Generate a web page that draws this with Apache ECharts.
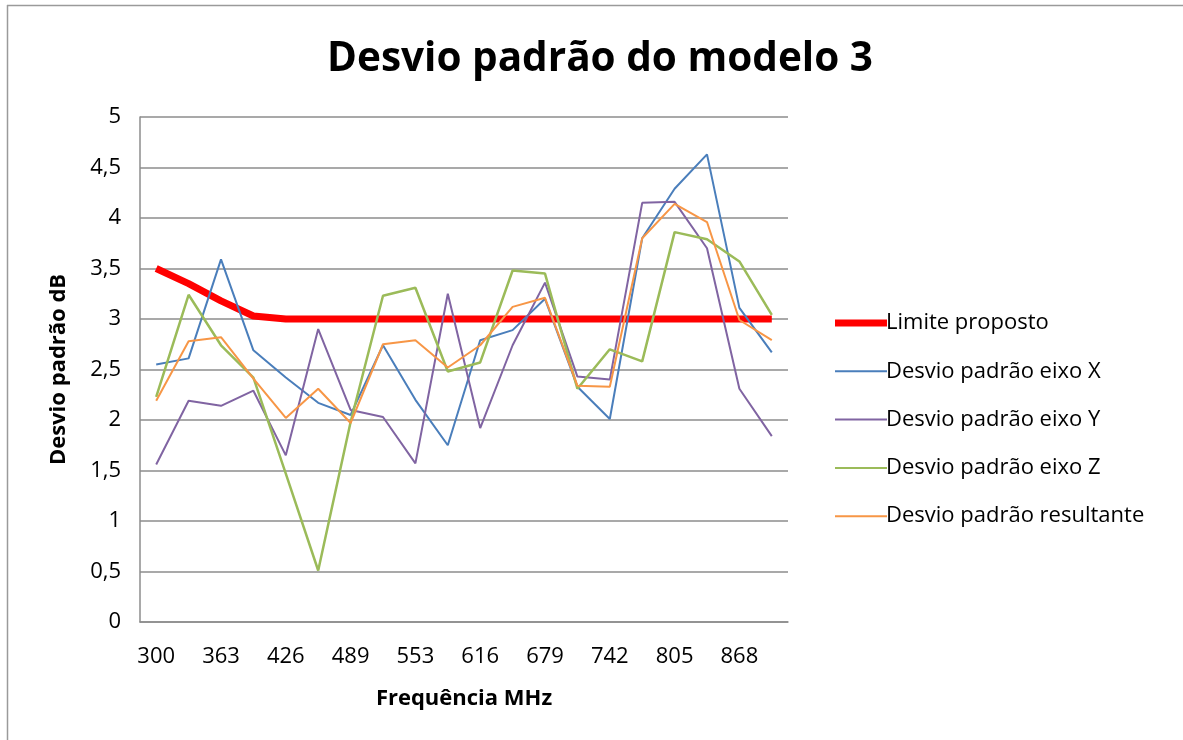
<!DOCTYPE html>
<html>
<head>
<meta charset="utf-8">
<script src="https://cdn.jsdelivr.net/npm/echarts@6/dist/echarts.min.js"></script>
<style>
  html, body { margin: 0; padding: 0; background: #fff; }
  #chart { width: 1183px; height: 740px; }
</style>
</head>
<body>
<div id="chart"></div>
<script>
// Frequencies (MHz), 20 points from 300 to 900
const frequencias = ['300', '332', '363', '395', '426', '458', '489', '521', '553', '584',
                     '616', '647', '679', '710', '742', '774', '805', '837', '868', '900'];

const limiteProposto = [3.5, 3.35, 3.18, 3.03, 3.0, 3.0, 3.0, 3.0, 3.0, 3.0,
                        3.0, 3.0, 3.0, 3.0, 3.0, 3.0, 3.0, 3.0, 3.0, 3.0];
const desvioX = [2.55, 2.61, 3.59, 2.69, 2.42, 2.17, 2.05, 2.74, 2.2, 1.75,
                 2.79, 2.89, 3.2, 2.33, 2.01, 3.8, 4.29, 4.63, 3.11, 2.67];
const desvioY = [1.56, 2.19, 2.14, 2.29, 1.65, 2.9, 2.1, 2.03, 1.57, 3.25,
                 1.92, 2.74, 3.36, 2.43, 2.4, 4.15, 4.16, 3.7, 2.31, 1.84];
const desvioZ = [2.23, 3.24, 2.74, 2.42, 1.47, 0.51, 1.98, 3.23, 3.31, 2.48,
                 2.57, 3.48, 3.45, 2.31, 2.7, 2.58, 3.86, 3.79, 3.57, 3.04];
const desvioResultante = [2.19, 2.78, 2.82, 2.41, 2.02, 2.31, 1.97, 2.75, 2.79, 2.52,
                          2.74, 3.12, 3.21, 2.34, 2.33, 3.8, 4.14, 3.96, 2.99, 2.79];

const FONT = '"Open Sans", "Noto Sans", sans-serif';
const GRID_COLOR = '#8c8c8c';
const THIN_ICON = 'path://M0,0 L52,0 L52,2 L0,2 Z';

function serie(nome, dados, cor, largura) {
  return {
    name: nome,
    type: 'line',
    data: dados,
    symbol: 'none',
    showSymbol: false,
    lineStyle: { color: cor, width: largura },
    itemStyle: { color: cor },
    emphasis: { disabled: true },
    animation: false
  };
}

const chart = echarts.init(document.getElementById('chart'), null, { renderer: 'canvas' });

chart.setOption({
  backgroundColor: '#ffffff',
  animation: false,
  title: {
    text: 'Desvio padrão do modelo 3',
    left: 322,
    top: 34,
    textStyle: { fontFamily: FONT, fontWeight: 'bold', fontSize: 40.5, color: '#000' }
  },
  graphic: [
    { type: 'line', shape: { x1: 7, y1: 5.5, x2: 1183, y2: 5.5 }, style: { stroke: '#9a9a9a', lineWidth: 1.5 }, silent: true },
    { type: 'line', shape: { x1: 7.5, y1: 5, x2: 7.5, y2: 740 }, style: { stroke: '#9a9a9a', lineWidth: 1.5 }, silent: true }
  ],
  legend: {
    orient: 'vertical',
    left: 830,
    top: 306,
    itemWidth: 52,
    itemHeight: 7,
    itemGap: 24.3,
    icon: 'rect',
    textStyle: { fontFamily: FONT, fontSize: 22, color: '#000', lineHeight: 24, padding: [0, 0, 0, -6] },
    data: [
      { name: 'Limite proposto', itemStyle: { color: '#ff0000' } },
      { name: 'Desvio padrão eixo X', icon: THIN_ICON, itemStyle: { color: '#4a7ebb' } },
      { name: 'Desvio padrão eixo Y', icon: THIN_ICON, itemStyle: { color: '#8064a2' } },
      { name: 'Desvio padrão eixo Z', icon: THIN_ICON, itemStyle: { color: '#9bbb59' } },
      { name: 'Desvio padrão resultante', icon: THIN_ICON, itemStyle: { color: '#f79646' } }
    ]
  },
  grid: { left: 140, right: 395, top: 117, bottom: 118, containLabel: false },
  xAxis: {
    type: 'category',
    data: frequencias,
    boundaryGap: true,
    name: 'Frequência MHz',
    nameLocation: 'middle',
    nameGap: 66,
    nameTextStyle: { fontFamily: FONT, fontWeight: 'bold', fontSize: 22, color: '#000' },
    axisLine: { lineStyle: { color: GRID_COLOR, width: 1.5 } },
    axisTick: { show: false },
    axisLabel: { interval: 1, fontFamily: FONT, fontSize: 22, color: '#000', margin: 24 }
  },
  yAxis: {
    type: 'value',
    min: 0,
    max: 5,
    interval: 0.5,
    name: 'Desvio padrão dB',
    nameLocation: 'middle',
    nameGap: 70,
    nameRotate: 90,
    nameTextStyle: { fontFamily: FONT, fontWeight: 'bold', fontSize: 22, color: '#000' },
    axisLine: { show: true, lineStyle: { color: GRID_COLOR, width: 1.5 } },
    axisTick: { show: false },
    splitLine: { lineStyle: { color: GRID_COLOR, width: 1.5 } },
    axisLabel: {
      fontFamily: FONT, fontSize: 22, color: '#000', margin: 19,
      formatter: v => String(v).replace('.', ',')
    }
  },
  series: [
    serie('Limite proposto', limiteProposto, '#ff0000', 7),
    serie('Desvio padrão eixo X', desvioX, '#4a7ebb', 2),
    serie('Desvio padrão eixo Y', desvioY, '#8064a2', 2),
    serie('Desvio padrão eixo Z', desvioZ, '#9bbb59', 2.5),
    serie('Desvio padrão resultante', desvioResultante, '#f79646', 2)
  ]
});
</script>
</body>
</html>
